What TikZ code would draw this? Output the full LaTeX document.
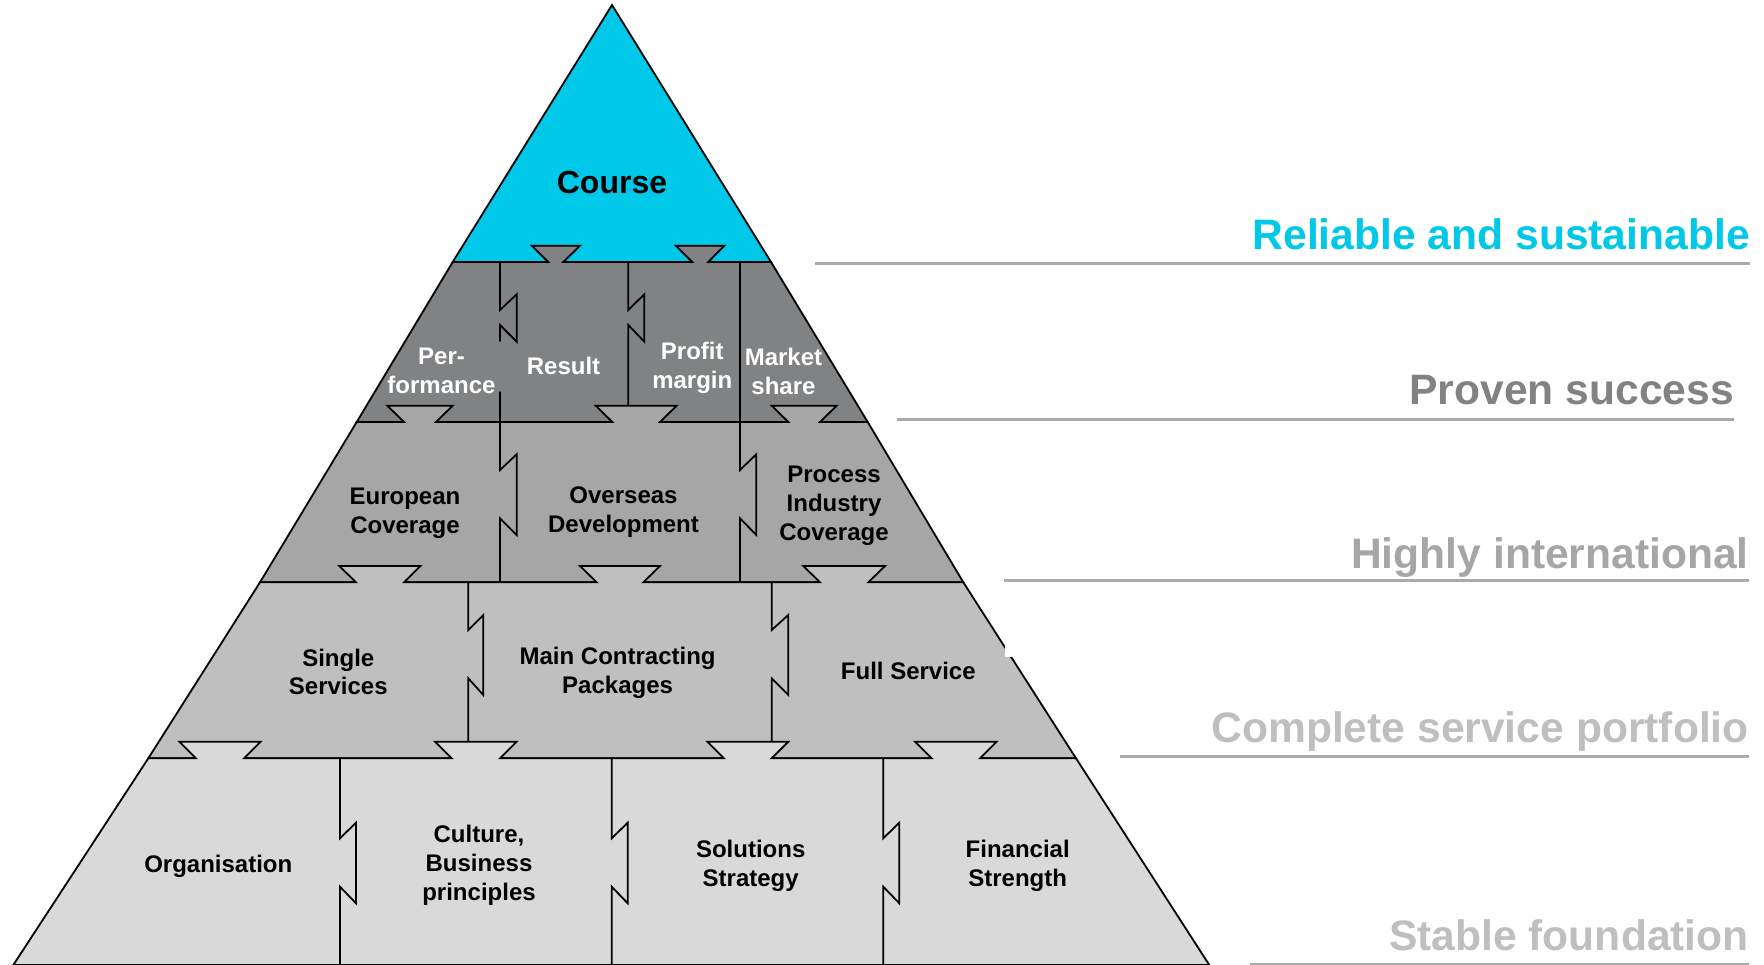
\documentclass[tikz,border=0pt]{standalone}
\usepackage{fontspec}
\setmainfont{Liberation Sans}
\definecolor{coursecyan}{RGB}{0,200,232}
\definecolor{levtwo}{RGB}{128,130,131}
\definecolor{levthree}{RGB}{166,166,166}
\definecolor{levfour}{RGB}{191,191,191}
\definecolor{levfive}{RGB}{217,217,217}
\definecolor{rulegray}{RGB}{170,170,170}
\tikzset{
  level/.style     = {draw=black, line width=1.8pt, line join=miter},
  divider/.style   = {draw=black, line width=1.8pt, line join=miter},
  piece/.style     = {align=center, inner sep=0pt, text=black,
                      font=\fontsize{24}{28.8}\selectfont\bfseries},
  whitepiece/.style= {piece, text=white},
  toppiece/.style  = {piece, font=\fontsize{32}{36}\selectfont\bfseries},
  claim/.style     = {anchor=base east, inner sep=0pt,
                      font=\fontsize{42.6}{48}\selectfont\bfseries},
  claimrule/.style = {draw=rulegray, line width=2.6pt}
}
\begin{document}
\begin{tikzpicture}[x=1pt, y=-1pt]
\useasboundingbox (0,0) rectangle (1764,965);

% levels of the pyramid, top to bottom
\path[level, fill=coursecyan] (612,5) -- (452.7,262) -- (771,262) -- cycle;
\path[level, fill=levtwo] (452.7,262) -- (548.3,262) -- (531.7,245.7) -- (580,245.7)
  -- (563.3,262) -- (692.3,262) -- (675.7,245.7) -- (724.3,245.7) -- (708.3,262)
  -- (771,262) -- (867.7,422) -- (356.7,422) -- cycle;
\path[level, fill=levthree] (356.7,422) -- (404,422) -- (387.3,405.7) -- (452.7,405.7)
  -- (436,422) -- (612.3,422) -- (595.7,405.7) -- (676.7,405.7) -- (660,422)
  -- (788.3,422) -- (771.7,405.7) -- (836.7,405.7) -- (820,422)
  -- (867.7,422) -- (963.3,582.3) -- (260,582.3) -- cycle;
\path[level, fill=levfour] (260,582.3) -- (356,582.3) -- (339.3,566) -- (420.3,566)
  -- (404,582.3) -- (596.7,582.3) -- (580,566) -- (660,566) -- (643.3,582.3)
  -- (820,582.3) -- (803.3,566) -- (885,566) -- (868.3,582.3)
  -- (963.3,582.3) -- (1076,758.3) -- (148.3,758.3) -- cycle;
\path[level, fill=levfive] (148.3,758.3) -- (196,758.3) -- (179.3,741.7) -- (260.7,741.7)
  -- (244,758.3) -- (451.7,758.3) -- (435,741.7) -- (516.7,741.7) -- (500,758.3)
  -- (724,758.3) -- (707.3,741.7) -- (788.3,741.7) -- (771.7,758.3)
  -- (931.7,758.3) -- (915,741.7) -- (996.7,741.7) -- (980,758.3)
  -- (1076,758.3) -- (1209.3,965) -- (13.3,965) -- cycle;
\fill[white] (1005,646) rectangle (1013,657);

% vertical joints
\path[divider] (500,262) -- (500,310) -- (516.7,294.3) -- (516.7,341.7) -- (500,325) -- (500,341.7);
\path[divider] (500,391.7) -- (500,470) -- (516.7,454.3) -- (516.7,535) -- (500,518.3) -- (500,582.3);
\path[divider] (628.3,262) -- (628.3,310) -- (644.3,294.3) -- (644.3,341.7) -- (628.3,325) -- (628.3,405.7);
\path[divider] (740,262) -- (740,470) -- (756.3,454.3) -- (756.3,535) -- (740,518.3) -- (740,582.3);
\path[divider] (468.3,582.3) -- (468.3,630) -- (483.3,615) -- (483.3,695) -- (468.3,678.3) -- (468.3,741.7);
\path[divider] (771.7,582.3) -- (771.7,630) -- (788.3,615) -- (788.3,695) -- (771.7,678.3) -- (771.7,741.7);
\foreach \xj in {340,611.7,883.3}
  \path[divider] (\xj,758.3) -- (\xj,838.3) -- ++(16,-15.6) -- ++(0,80.6) -- (\xj,886.7) -- (\xj,965);

% texts in the pieces
\node[toppiece] (course) at (612,182) {Course};
\node[whitepiece] (perf) at (441.5,371) {Per-\\formance};
\node[whitepiece] (result) at (563.5,366) {Result};
\node[whitepiece] (profit) at (692.3,368) {Profit\\margin};
\node[whitepiece] (market) at (783.5,371.7) {Market\\share};
\node[piece] (europe) at (405,513) {European\\Coverage};
\node[piece] (overseas) at (623.5,512) {Overseas\\Development};
\node[piece] (process) at (834,506) {Process\\Industry\\Coverage};
\node[piece] (single) at (338.3,672) {Single\\Services};
\node[piece] (maincon) at (617.6,672.5) {Main Contracting\\Packages};
\node[piece] (fullserv) at (908.3,671) {Full Service};
\node[piece] (organis) at (218.3,866) {Organisation};
\node[piece] (culture) at (479,865) {Culture,\\Business\\principles};
\node[piece] (solutions) at (750.7,866) {Solutions\\Strategy};
\node[piece] (financial) at (1017.7,866) {Financial\\Strength};

% claims on the right
\node[claim, text=coursecyan] (reliable) at (1750,250) {Reliable and sustainable};
\node[claim, text=levtwo] (proven) at (1734,404) {Proven success};
\node[claim, text=levthree] (highly) at (1749,568) {Highly international};
\node[claim, text=levfour] (complete) at (1749,742) {Complete service portfolio};
\node[claim, text=levfour] (stable) at (1749,950) {Stable foundation};
\coordinate (reliableL) at (815,263.3);
\coordinate (reliableR) at (1750,263.3);
\coordinate (provenL) at (896.7,419.3);
\coordinate (provenR) at (1734,419.3);
\coordinate (highlyL) at (1004,580.7);
\coordinate (highlyR) at (1749,580.7);
\coordinate (completeL) at (1119.5,756.7);
\coordinate (completeR) at (1749,756.7);
\coordinate (stableL) at (1249.8,964);
\coordinate (stableR) at (1749,964);
\draw[claimrule] (reliableL) -- (reliableR);
\draw[claimrule] (provenL) -- (provenR);
\draw[claimrule] (highlyL) -- (highlyR);
\draw[claimrule] (completeL) -- (completeR);
\draw[claimrule] (stableL) -- (stableR);
\end{tikzpicture}
\end{document}
